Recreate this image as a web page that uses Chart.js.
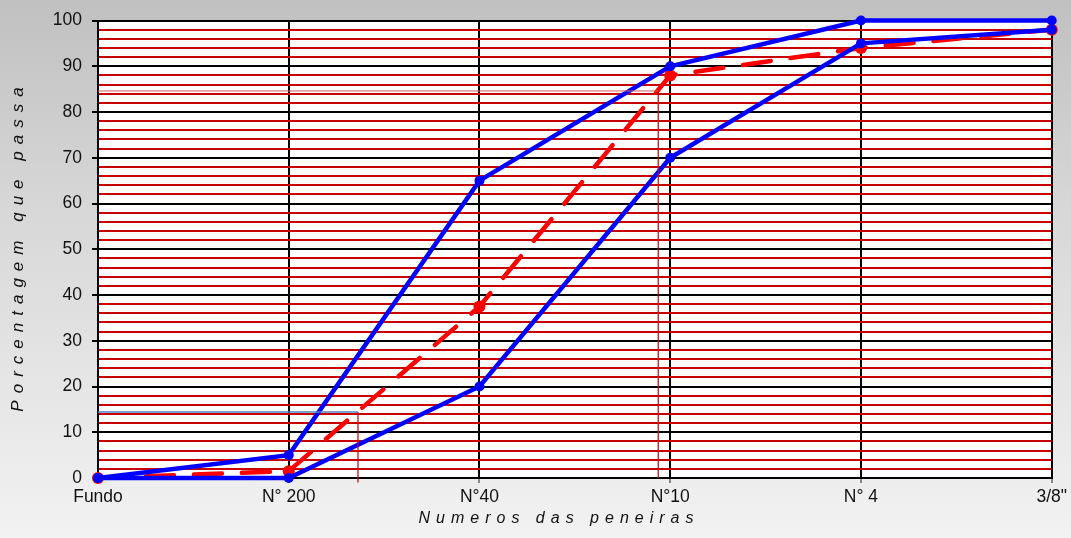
<!DOCTYPE html>
<html lang="pt">
<head>
  <meta charset="UTF-8">
  <title>Curva granulométrica</title>
  <script src="https://cdn.jsdelivr.net/npm/chart.js"></script>
  <style>
    body {
      margin: 0;
      padding: 0;
    }
    .chart-container {
      width: 1071px;
      height: 538px;
      background: linear-gradient(to bottom, #c0c0c0 0%, #d8d8d8 40%, #f2f2f2 100%);
    }
  </style>
</head>
<body>
  <div class="chart-container">
    <canvas id="granChart" width="1071" height="538"></canvas>
  </div>

  <script>
    // sieve names along the x axis
    const categories = ['Fundo', 'N° 200', 'N°40', 'N°10', 'N° 4', '3/8"'];
    // grading envelope (upper and lower) and the sample curve
    const upperLimit = [0, 5, 65, 90, 100, 100];
    const lowerLimit = [0, 0, 20, 70, 95, 98];
    const sample = [0, 1.5, 37.5, 88, 94, 98];
    // reading lines (x as position between sieves, y in %)
    const lowRead = { x: 1.363, y: 14.4 };
    const highRead = { x: 2.937, y: 84.6 };

    const xTitle = 'Numeros das peneiras';
    const yTitle = 'Porcentagem que passa';

    const toPoints = arr => arr.map((v, i) => ({ x: i, y: v }));

    // white plot area
    const plotBg = {
      id: 'plotBg',
      beforeDraw(chart) {
        const { ctx, chartArea: a } = chart;
        ctx.save();
        ctx.fillStyle = '#ffffff';
        ctx.fillRect(a.left, a.top, a.right - a.left, a.bottom - a.top);
        ctx.restore();
      }
    };

    // spaced-out italic axis titles (canvas letterSpacing)
    const spacedTitles = {
      id: 'spacedTitles',
      afterDraw(chart) {
        const { ctx } = chart;
        ctx.save();
        ctx.fillStyle = '#111111';
        ctx.textAlign = 'center';
        ctx.textBaseline = 'middle';

        ctx.font = 'italic 16px Arial, "Liberation Sans", sans-serif';
        ctx.letterSpacing = '6px';
        ctx.fillText(xTitle, 559, 519);

        ctx.font = 'italic 17px Arial, "Liberation Sans", sans-serif';
        ctx.letterSpacing = '7px';
        ctx.translate(18, 246);
        ctx.rotate(-Math.PI / 2);
        ctx.fillText(yTitle, 0, 0);
        ctx.restore();
      }
    };

    const ctx = document.getElementById('granChart').getContext('2d');

    new Chart(ctx, {
      type: 'line',
      data: {
        datasets: [
          {
            data: [{ x: 0, y: lowRead.y }, { x: lowRead.x, y: lowRead.y }],
            borderColor: '#4f81bd',
            borderWidth: 1.5,
            pointRadius: 0
          },
          {
            data: [{ x: lowRead.x, y: lowRead.y }, { x: lowRead.x, y: -1 }],
            borderColor: '#cc0000',
            borderWidth: 1.2,
            pointRadius: 0
          },
          {
            data: [{ x: 0, y: highRead.y }, { x: highRead.x, y: highRead.y }],
            borderColor: '#d85a5a',
            borderWidth: 1,
            pointRadius: 0
          },
          {
            data: [{ x: highRead.x, y: highRead.y }, { x: highRead.x, y: 0 }],
            borderColor: '#cc0000',
            borderWidth: 1.2,
            pointRadius: 0
          },
          {
            label: 'Limite superior',
            data: toPoints(upperLimit),
            borderColor: '#0000ff',
            backgroundColor: '#0000ff',
            borderWidth: 4.5,
            pointRadius: 5,
            pointBorderWidth: 0
          },
          {
            label: 'Limite inferior',
            data: toPoints(lowerLimit),
            borderColor: '#0000ff',
            backgroundColor: '#0000ff',
            borderWidth: 4.5,
            pointRadius: 5,
            pointBorderWidth: 0
          },
          {
            label: 'Amostra',
            data: toPoints(sample),
            borderColor: '#ff0000',
            backgroundColor: '#ff0000',
            borderWidth: 4.5,
            borderDash: [28, 20],
            borderCapStyle: 'round',
            pointRadius: 6,
            pointBorderWidth: 0
          }
        ]
      },
      options: {
        responsive: false,
        animation: false,
        clip: false,
        layout: { padding: { left: 0, right: 16, top: 18, bottom: 0 } },
        plugins: {
          legend: { display: false },
          tooltip: { enabled: false }
        },
        elements: { line: { tension: 0 } },
        scales: {
          x: {
            type: 'linear',
            min: 0,
            max: 5,
            afterFit: s => { s.height = 60; },
            ticks: {
              stepSize: 1,
              autoSkip: false,
              maxRotation: 0,
              padding: 4,
              color: '#111111',
              font: { family: 'Arial, "Liberation Sans", sans-serif', size: 17.5 },
              callback: v => categories[v]
            },
            grid: {
              color: '#000000',
              lineWidth: 2,
              tickColor: '#888888',
              tickLength: 5
            },
            border: { color: '#000000', width: 2 }
          },
          y: {
            min: 0,
            max: 100,
            afterFit: s => { s.width = 98; },
            ticks: {
              stepSize: 2,
              autoSkip: false,
              padding: 10,
              color: '#111111',
              font: { family: 'Arial, "Liberation Sans", sans-serif', size: 17.5 },
              callback: v => (v % 10 === 0 ? v : '')
            },
            grid: {
              color: c => (c.tick && c.tick.value % 10 === 0 ? '#000000' : '#c80000'),
              lineWidth: 2,
              tickColor: c => (c.tick && c.tick.value % 10 === 0 ? '#000000' : 'rgba(0,0,0,0)'),
              tickLength: 6
            },
            border: { color: '#000000', width: 2 }
          }
        }
      },
      plugins: [plotBg, spacedTitles]
    });
  </script>
</body>
</html>
